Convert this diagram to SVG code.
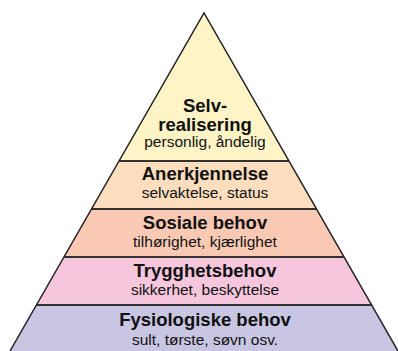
<svg xmlns="http://www.w3.org/2000/svg" width="398" height="351" viewBox="0 0 398 351">
<style>
.t{font-family:"Liberation Sans",Arial,sans-serif;font-weight:bold;font-size:18.5px;fill:#111;text-anchor:middle}
.s{font-family:"Liberation Sans",Arial,sans-serif;font-size:15.5px;fill:#111;text-anchor:middle}
.edge{fill:none;stroke:#222;stroke-width:1.5}
.sep{stroke:#333;stroke-width:2}
</style>
<rect width="398" height="351" fill="#ffffff"/>
<g id="layer1">
<polygon points="204,13 289,161 119,161" fill="#FEF4C6"/>
<text class="t" x="205" y="112">Selv-</text>
<text class="t" x="205" y="131">realisering</text>
<text class="s" x="205" y="147">personlig, åndelig</text>
</g>
<g id="layer2">
<polygon points="119,161 289,161 316.5,209 91.5,209" fill="#FCDDBD"/>
<text class="t" x="205" y="180">Anerkjennelse</text>
<text class="s" x="205" y="198">selvaktelse, status</text>
</g>
<g id="layer3">
<polygon points="91.5,209 316.5,209 344,257 64,257" fill="#F9C9B4"/>
<text class="t" x="205" y="229">Sosiale behov</text>
<text class="s" x="205" y="247">tilhørighet, kjærlighet</text>
</g>
<g id="layer4">
<polygon points="64,257 344,257 371.6,305 36.4,305" fill="#F6C7DC"/>
<text class="t" x="205" y="277">Trygghetsbehov</text>
<text class="s" x="205" y="295">sikkerhet, beskyttelse</text>
</g>
<g id="layer5">
<polygon points="36.4,305 371.6,305 398,351 10,351" fill="#C9C6E3"/>
<text class="t" x="205" y="326">Fysiologiske behov</text>
<text class="s" x="205" y="345">sult, tørste, søvn osv.</text>
</g>
<g id="connectors">
<line class="sep" x1="119" y1="161" x2="289" y2="161"/>
<line class="sep" x1="91.5" y1="209" x2="316.5" y2="209"/>
<line class="sep" x1="64" y1="257" x2="344" y2="257"/>
<line class="sep" x1="36.4" y1="305" x2="371.6" y2="305"/>
<polyline class="edge" points="10,351 204,13 398,351"/>
</g>
</svg>
